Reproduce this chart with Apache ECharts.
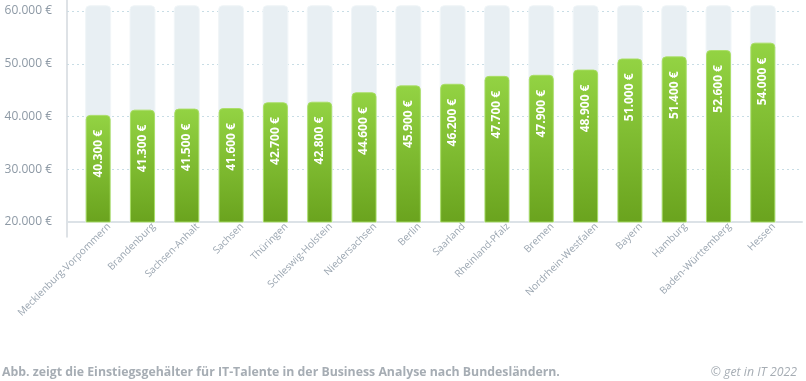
<!DOCTYPE html>
<html>
<head>
<meta charset="utf-8">
<script src="https://cdn.jsdelivr.net/npm/echarts@6/dist/echarts.min.js"></script>
<style>
html,body{margin:0;padding:0;background:#fff;}
#c{width:806px;height:381px;}
</style>
</head>
<body>
<div id="c"></div>
<script>
const categories = ['Mecklenburg-Vorpommern','Brandenburg','Sachsen-Anhalt','Sachsen','Thüringen','Schleswig-Holstein','Niedersachsen','Berlin','Saarland','Rheinland-Pfalz','Bremen','Nordrhein-Westfalen','Bayern','Hamburg','Baden-Württemberg','Hessen'];
const salaries = [40300, 41300, 41500, 41600, 42700, 42800, 44600, 45900, 46200, 47700, 47900, 48900, 51000, 51400, 52600, 54000];
const yMin = 20000, yMax = 60000, yStep = 10000, bgMax = 61000;
const footerText = 'Abb. zeigt die Einstiegsgehälter für IT-Talente in der Business Analyse nach Bundesländern.';
const creditText = '© get in IT 2022';

const fmtEuro = v => String(v).replace(/\B(?=(\d{3})+(?!\d))/g, '.') + ' €';
const FONT = 'Open Sans';

const chart = echarts.init(document.getElementById('c'), null, {renderer: 'canvas'});
chart.setOption({
  animation: false,
  title: [
    {text: footerText, left: 2, top: 366, padding: 0,
     textStyle: {fontFamily: FONT, fontSize: 12.3, fontWeight: 'bold', color: '#a6adb4'}},
    {text: creditText, right: 9, top: 366, padding: 0,
     textStyle: {fontFamily: FONT, fontSize: 12.3, fontWeight: 'normal', fontStyle: 'italic', color: '#a6adb4'}}
  ],
  grid: [
    {left: 67, right: 4, top: 0, bottom: 144},
    {left: 67, right: 4, top: 11, bottom: 159},
    {left: 76, width: 709, top: 5.7, bottom: 159},
    {left: 87, width: 709, top: 5.7, bottom: 159}
  ],
  xAxis: [
    {gridIndex: 0, type: 'category', data: categories, show: false},
    {gridIndex: 1, type: 'category', data: categories,
     axisLine: {show: true, lineStyle: {color: '#dce2e7', width: 2}},
     axisTick: {show: false}, axisLabel: {show: false}},
    {gridIndex: 2, type: 'category', data: categories,
     axisLine: {show: false}, axisTick: {show: false}, axisLabel: {show: false}},
    {gridIndex: 3, type: 'category', data: categories,
     axisLine: {show: false}, axisTick: {show: false},
     axisLabel: {rotate: 45, margin: 3, interval: 0, fontFamily: FONT, fontSize: 10, color: '#9ba6b1'}}
  ],
  yAxis: [
    {gridIndex: 0, type: 'value', min: 0, max: 1,
     axisLine: {show: true, lineStyle: {color: '#d3d9de', width: 1.5}},
     axisTick: {show: false}, axisLabel: {show: false}, splitLine: {show: false}},
    {gridIndex: 1, type: 'value', min: yMin, max: yMax, interval: yStep,
     axisLine: {show: false}, axisTick: {show: false},
     axisLabel: {margin: 15, fontFamily: FONT, fontSize: 12, color: '#8d99a5', formatter: fmtEuro},
     splitLine: {show: true, lineStyle: {color: '#c8dde5', type: [2, 3], width: 1}}},
    {gridIndex: 2, type: 'value', min: yMin, max: bgMax, show: false, splitLine: {show: false}},
    {gridIndex: 3, type: 'value', min: yMin, max: bgMax, show: false, splitLine: {show: false}}
  ],
  series: [
    {
      type: 'bar', xAxisIndex: 2, yAxisIndex: 2,
      data: salaries, barWidth: 25,
      showBackground: true,
      backgroundStyle: {color: '#e8eff3', borderRadius: [4, 4, 0, 0], borderColor: '#f1f6f8', borderWidth: 1},
      itemStyle: {
        borderRadius: [4, 4, 0, 0],
        borderColor: 'rgba(168,222,100,0.9)', borderWidth: 1,
        color: new echarts.graphic.LinearGradient(0, 0, 0, 1, [
          {offset: 0, color: '#93d343'},
          {offset: 1, color: '#6aa31e'}
        ])
      },
      label: {
        show: true, position: 'insideTop', distance: 15, rotate: 90,
        align: 'right', verticalAlign: 'middle',
        fontFamily: FONT, fontSize: 12, fontWeight: 'bold', color: '#ffffff',
        formatter: p => fmtEuro(p.value)
      }
    },
    {
      type: 'bar', xAxisIndex: 3, yAxisIndex: 3, data: [], silent: true
    }
  ]
});
</script>
</body>
</html>
